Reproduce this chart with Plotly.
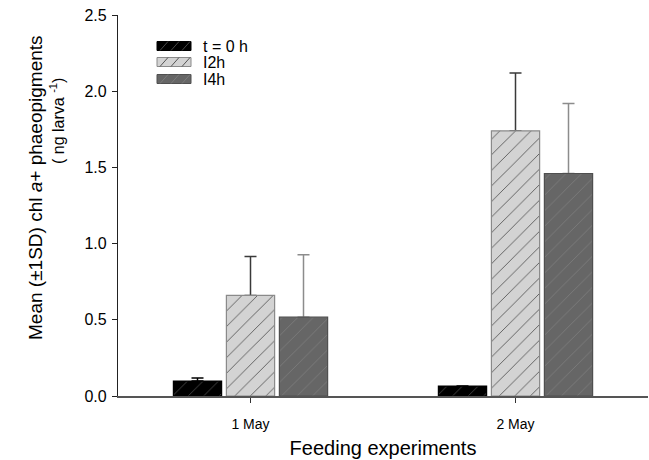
import plotly.graph_objects as go

categories = ["1 May", "2 May"]
series_names = ["t = 0 h", "I2h", "I4h"]
means_t0 = [0.098, 0.065]
means_12h = [0.66, 1.74]
means_14h = [0.517, 1.46]
sd_t0 = [0.02, 0.0]
sd_12h = [0.255, 0.38]
sd_14h = [0.41, 0.46]

y_ticks = [0.0, 0.5, 1.0, 1.5, 2.0, 2.5]

styles = [
    dict(bg="#000000", fg="#4a4a4a", edge="#000000", err="#000000"),
    dict(bg="#d3d3d3", fg="#555555", edge="#8a8a8a", err="#3a3a3a"),
    dict(bg="#666666", fg="#7c7c7c", edge="#4f4f4f", err="#8c8c8c"),
]

all_means = [means_t0, means_12h, means_14h]
all_sd = [sd_t0, sd_12h, sd_14h]

fig = go.Figure()
# error bars first (drawn underneath the bars so only the upper whisker shows)
for i, (name, m, sd, st) in enumerate(zip(series_names, all_means, all_sd, styles)):
    fig.add_trace(go.Bar(
        x=categories, y=m, name=name + " SD", showlegend=False, offsetgroup=str(i),
        marker=dict(color="rgba(0,0,0,0)", line=dict(width=0)),
        error_y=dict(type="data", array=sd, arrayminus=[0] * len(sd), symmetric=False,
                     color=st["err"], thickness=1.5, width=6),
        hoverinfo="skip",
    ))
for i, (name, m, st) in enumerate(zip(series_names, all_means, styles)):
    fig.add_trace(go.Bar(
        x=categories, y=m, name=name, showlegend=False, offsetgroup=str(i),
        marker=dict(color=st["bg"], line=dict(color=st["edge"], width=1.2),
                    pattern=dict(shape="/", fgcolor=st["fg"], bgcolor=st["bg"],
                                 size=11, solidity=0.08, fillmode="replace")),
    ))

L, R, T, B = 118, 1, 15, 64
W, H = 649, 460
pw, ph = W - L - R, H - T - B


def px(x):
    return (x - L) / pw


def py(y):
    return (H - B - y) / ph


shapes = []
annotations = []
rows = [46, 62, 79]
for i, (name, st) in enumerate(zip(series_names, styles)):
    yc = rows[i]
    shapes.append(dict(type="rect", xref="paper", yref="paper",
                       x0=px(157), x1=px(191), y0=py(yc + 4.5), y1=py(yc - 4.5),
                       fillcolor=st["bg"], line=dict(color=st["edge"], width=1)))
    for k in range(3):
        x0 = 160 + k * 11
        shapes.append(dict(type="line", xref="paper", yref="paper",
                           x0=px(x0), x1=px(x0 + 8), y0=py(yc + 4.5), y1=py(yc - 4.5),
                           line=dict(color=st["fg"], width=1)))
    annotations.append(dict(xref="paper", yref="paper", x=px(201), y=py(yc),
                            xanchor="left", yanchor="middle", showarrow=False,
                            text=name, font=dict(size=16, color="#000000")))

annotations.append(dict(xref="paper", yref="paper", x=px(35), y=py(188),
                        xanchor="center", yanchor="middle", showarrow=False, textangle=-90,
                        text="Mean (±1SD) chl <i>a</i>+ phaeopigments",
                        font=dict(size=19, color="#000000")))
annotations.append(dict(xref="paper", yref="paper", x=px(57), y=py(121),
                        xanchor="center", yanchor="middle", showarrow=False, textangle=-90,
                        text="( ng larva <sup>-1</sup>)",
                        font=dict(size=16, color="#000000")))

fig.update_layout(
    width=W, height=H,
    margin=dict(l=L, r=R, t=T, b=B, pad=0),
    paper_bgcolor="white", plot_bgcolor="white",
    font=dict(family="Liberation Sans, Arial, sans-serif", color="#000000"),
    barmode="group", bargap=0.40, bargroupgap=0.09,
    shapes=shapes, annotations=annotations,
    xaxis=dict(range=[-0.5, 1.5], showline=True, linecolor="#555555", linewidth=1.5,
               ticks="outside", ticklen=5, tickcolor="#333333", showgrid=False,
               tickfont=dict(size=14), zeroline=False, ticklabelstandoff=9,
               title=dict(text="Feeding experiments", font=dict(size=20), standoff=10)),
    yaxis=dict(range=[0, 2.5], tickvals=y_ticks, ticktext=[f"{v:.1f}" for v in y_ticks],
               showline=True, linecolor="#222222", linewidth=1.2,
               ticks="outside", ticklen=5, tickcolor="#222222", showgrid=False,
               zeroline=False, tickfont=dict(size=16), ticklabelstandoff=2),
)

fig.write_html("out.html")
